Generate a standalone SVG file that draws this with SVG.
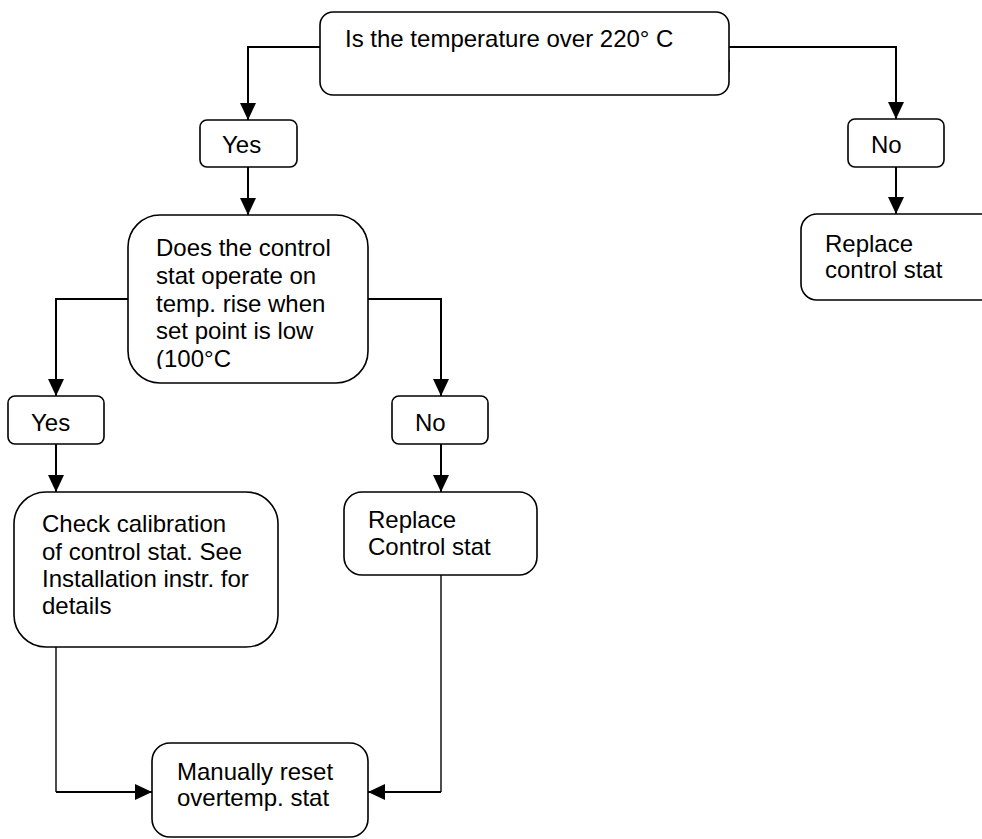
<svg xmlns="http://www.w3.org/2000/svg" width="982" height="839" viewBox="0 0 982 839">
<style>
.box{fill:#fff;stroke:#000;stroke-width:1.6}
.t{font-family:"Liberation Sans",Arial,sans-serif;font-size:24px;fill:#000}
.c{fill:none;stroke:#000;stroke-width:2}
.c1{fill:none;stroke:#000;stroke-width:1.4}
</style>
<defs>
<marker id="ah" markerUnits="userSpaceOnUse" markerWidth="17" markerHeight="16" refX="17" refY="8" orient="auto">
<path d="M0,0 L17,8 L0,16 z" fill="#000"/>
</marker>
<clipPath id="clipDoes"><rect x="128" y="215" width="240" height="154"/></clipPath>
</defs>
<rect width="982" height="839" fill="#fff"/>
<g id="connectors">
<path class="c" d="M320,47 H248 V120" marker-end="url(#ah)"/>
<path class="c" d="M729,47 H896 V119" marker-end="url(#ah)"/>
<path class="c" d="M248,167 V215" marker-end="url(#ah)"/>
<path class="c" d="M896,167 V214" marker-end="url(#ah)"/>
<path class="c" d="M128,299 H56 V396" marker-end="url(#ah)"/>
<path class="c" d="M368,299 H441 V396" marker-end="url(#ah)"/>
<path class="c" d="M56,444 V492" marker-end="url(#ah)"/>
<path class="c" d="M441,444 V492" marker-end="url(#ah)"/>
<path class="c1" d="M56,647 V792"/>
<path class="c" d="M56,792 H152" marker-end="url(#ah)"/>
<path class="c1" d="M441,575 V792"/>
<path class="c" d="M441,792 H368" marker-end="url(#ah)"/>
<path class="c1" d="M729,60 V72"/>
</g>
<g id="n-top">
<rect class="box" x="320" y="12" width="409" height="83" rx="13"/>
<text class="t" x="345" y="47">Is the temperature over 220° C</text>
</g>
<g id="n-yes1">
<rect class="box" x="200" y="120" width="97" height="47" rx="7"/>
<text class="t" x="222" y="153">Yes</text>
</g>
<g id="n-no1">
<rect class="box" x="848" y="119" width="96" height="48" rx="7"/>
<text class="t" x="871" y="153">No</text>
</g>
<g id="n-replace1">
<rect class="box" x="801" y="214" width="200" height="86" rx="16"/>
<text class="t" x="825" y="252">Replace</text>
<text class="t" x="825" y="278">control stat</text>
</g>
<g id="n-does">
<rect class="box" x="128" y="215" width="240" height="168" rx="32"/>
<g clip-path="url(#clipDoes)">
<text class="t" x="156" y="256">Does the control</text>
<text class="t" x="156" y="284">stat operate on</text>
<text class="t" x="156" y="312">temp. rise when</text>
<text class="t" x="156" y="339">set point is low</text>
<text class="t" x="156" y="367">(100°C</text>
</g>
</g>
<g id="n-yes2">
<rect class="box" x="8" y="396" width="96" height="48" rx="7"/>
<text class="t" x="31" y="431">Yes</text>
</g>
<g id="n-no2">
<rect class="box" x="392" y="396" width="96" height="48" rx="7"/>
<text class="t" x="415" y="431">No</text>
</g>
<g id="n-check">
<rect class="box" x="14" y="492" width="264" height="155" rx="32"/>
<text class="t" x="42" y="532">Check calibration</text>
<text class="t" x="42" y="560">of control stat. See</text>
<text class="t" x="42" y="587">Installation instr. for</text>
<text class="t" x="42" y="614">details</text>
</g>
<g id="n-replace2">
<rect class="box" x="344" y="492" width="193" height="83" rx="18"/>
<text class="t" x="368" y="528">Replace</text>
<text class="t" x="368" y="555">Control stat</text>
</g>
<g id="n-manual">
<rect class="box" x="152" y="743" width="216" height="94" rx="18"/>
<text class="t" x="177" y="780">Manually reset</text>
<text class="t" x="177" y="806">overtemp. stat</text>
</g>
</svg>
